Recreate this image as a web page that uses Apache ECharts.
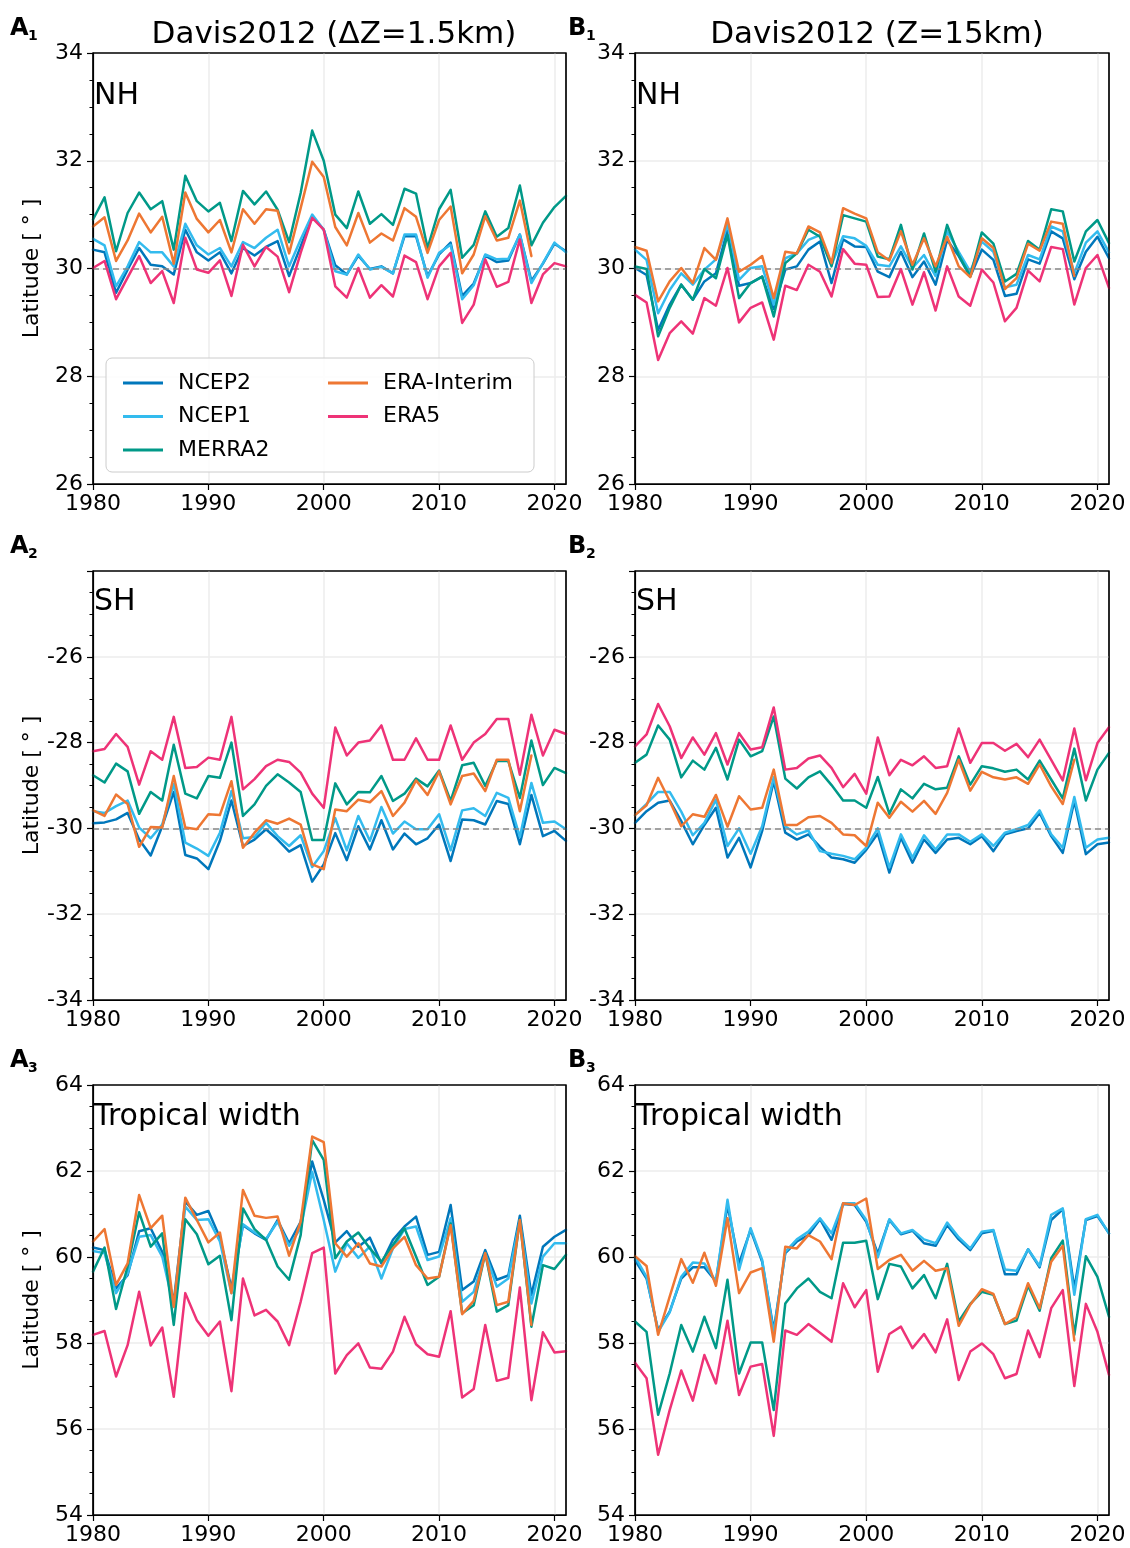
<!DOCTYPE html>
<html>
<head>
<meta charset="utf-8">
<script src="https://cdn.jsdelivr.net/npm/echarts@6/dist/echarts.min.js"></script>
<style>
html,body{margin:0;padding:0;background:#fff;}
#chart{width:1130px;height:1548px;}
</style>
</head>
<body>
<div id="chart"></div>
<script>
const years = [1980,1981,1982,1983,1984,1985,1986,1987,1988,1989,1990,1991,1992,1993,1994,1995,1996,1997,1998,1999,2000,2001,2002,2003,2004,2005,2006,2007,2008,2009,2010,2011,2012,2013,2014,2015,2016,2017,2018,2019,2020,2021];
const seriesNames = ['NCEP2','NCEP1','MERRA2','ERA-Interim','ERA5'];
const seriesColors = ['#0077BB','#33BBEE','#009988','#EE7733','#EE3377'];

// A1: NH, Davis2012 (dZ=1.5km)
const a1_ncep2 = [30.35,30.30,29.55,29.98,30.38,30.07,30.04,29.89,30.72,30.30,30.15,30.30,29.91,30.38,30.24,30.40,30.51,29.86,30.41,30.97,30.72,30.06,29.89,30.24,29.99,30.04,29.91,30.60,30.60,29.86,30.26,30.48,29.49,29.72,30.24,30.12,30.15,30.63,29.77,30.09,30.46,30.32];
const a1_ncep1 = [30.55,30.43,29.67,30.04,30.49,30.30,30.30,30.04,30.83,30.43,30.26,30.38,30.04,30.49,30.38,30.57,30.72,30.04,30.54,31.00,30.72,29.95,29.89,30.26,29.98,30.03,29.91,30.63,30.63,29.83,30.29,30.44,29.43,29.69,30.26,30.17,30.18,30.63,29.73,30.10,30.48,30.30];
const a1_merra2 = [30.91,31.32,30.32,31.03,31.41,31.10,31.25,30.35,31.72,31.25,31.06,31.22,30.51,31.44,31.19,31.43,31.09,30.49,31.40,32.56,32.00,31.00,30.75,31.43,30.83,31.01,30.81,31.48,31.39,30.38,31.10,31.46,30.20,30.44,31.06,30.59,30.75,31.54,30.43,30.85,31.14,31.35];
const a1_erai = [30.78,30.95,30.14,30.52,31.02,30.67,30.96,30.09,31.41,30.92,30.67,30.90,30.30,31.10,30.83,31.10,31.07,30.28,31.12,31.98,31.70,30.77,30.43,31.03,30.48,30.65,30.52,31.12,30.96,30.29,30.90,31.15,29.91,30.26,30.97,30.52,30.57,31.26,30.23];
const a1_era5 = [30.01,30.14,29.43,29.83,30.23,29.73,29.95,29.36,30.57,29.98,29.92,30.15,29.49,30.44,30.04,30.40,30.22,29.56,30.29,30.94,30.72,29.67,29.46,30.01,29.46,29.69,29.48,30.24,30.12,29.43,30.04,30.29,28.99,29.33,30.17,29.66,29.75,30.54,29.36,29.89,30.10,30.04];

// B1: NH, Davis2012 (Z=15km)
const b1_ncep2 = [30.01,29.88,28.86,29.33,29.70,29.42,29.76,29.91,30.72,29.68,29.73,29.85,29.25,29.98,30.04,30.35,30.50,29.73,30.54,30.41,30.40,29.94,29.84,30.31,29.84,30.13,29.70,30.53,30.23,29.85,30.35,30.16,29.49,29.53,30.17,30.09,30.69,30.56,29.80,30.31,30.59,30.19];
const b1_ncep1 = [30.35,30.16,29.17,29.60,29.91,29.70,29.98,30.17,30.81,29.79,30.01,30.04,29.33,30.19,30.28,30.53,30.62,30.07,30.60,30.56,30.42,30.07,30.04,30.41,30.01,30.25,29.86,30.69,30.31,29.94,30.50,30.31,29.65,29.70,30.25,30.17,30.78,30.69,29.91,30.48,30.69,30.30];
const b1_merra2 = [30.04,29.99,28.74,29.27,29.70,29.42,29.99,29.82,30.62,29.45,29.73,29.85,29.11,30.10,30.28,30.72,30.59,30.04,30.99,30.93,30.87,30.22,30.17,30.81,29.98,30.65,29.94,30.81,30.25,29.86,30.67,30.46,29.76,29.90,30.51,30.35,31.10,31.06,30.13,30.69,30.90,30.47];
const b1_erai = [30.40,30.33,29.39,29.76,30.01,29.73,30.38,30.16,30.93,29.94,30.07,30.23,29.45,30.31,30.28,30.78,30.67,30.10,31.12,31.02,30.93,30.30,30.15,30.69,30.07,30.56,30.04,30.59,30.04,29.84,30.56,30.38,29.62,29.82,30.46,30.33,30.87,30.83,29.86];
const b1_era5 = [29.51,29.37,28.30,28.80,29.02,28.79,29.45,29.31,30.01,29.00,29.27,29.37,28.68,29.68,29.60,30.07,29.94,29.48,30.36,30.09,30.07,29.47,29.48,29.99,29.33,29.93,29.22,30.04,29.48,29.31,29.98,29.74,29.02,29.27,29.96,29.76,30.40,30.36,29.33,30.01,30.25,29.64];

// A2: SH, Davis2012 (dZ=1.5km)
const a2_ncep2 = [-29.88,-29.86,-29.79,-29.64,-30.26,-30.63,-29.95,-29.15,-30.62,-30.70,-30.95,-30.29,-29.35,-30.41,-30.26,-30.02,-30.26,-30.54,-30.39,-31.24,-30.84,-30.11,-30.74,-29.95,-30.49,-29.81,-30.49,-30.12,-30.37,-30.23,-29.91,-30.76,-29.79,-29.81,-29.91,-29.36,-29.43,-30.37,-29.22,-30.18,-30.06,-30.29];
const a2_ncep1 = [-29.60,-29.64,-29.48,-29.35,-29.98,-30.23,-29.91,-28.96,-30.33,-30.47,-30.64,-30.10,-29.13,-30.23,-30.20,-29.87,-30.18,-30.41,-30.16,-30.90,-30.53,-29.76,-30.51,-29.71,-30.29,-29.50,-30.12,-29.84,-30.02,-30.02,-29.67,-30.51,-29.58,-29.53,-29.71,-29.17,-29.29,-30.20,-28.94,-29.87,-29.84,-30.02];
const a2_merra2 = [-28.76,-28.93,-28.49,-28.67,-29.66,-29.15,-29.35,-28.05,-29.19,-29.30,-28.78,-28.82,-28.00,-29.71,-29.44,-29.01,-28.74,-28.93,-29.15,-30.27,-30.27,-28.95,-29.44,-29.15,-29.16,-28.78,-29.36,-29.19,-28.84,-29.02,-28.65,-29.36,-28.53,-28.47,-29.01,-28.43,-28.43,-29.29,-27.95,-28.99,-28.59,-28.71];
const a2_erai = [-29.58,-29.71,-29.21,-29.43,-30.43,-29.97,-29.98,-28.78,-29.98,-30.02,-29.67,-29.69,-28.90,-30.45,-30.10,-29.81,-29.89,-29.77,-29.91,-30.84,-30.95,-29.56,-29.60,-29.33,-29.39,-29.13,-29.71,-29.40,-28.88,-29.22,-28.67,-29.44,-28.78,-28.72,-29.13,-28.40,-28.40,-29.60,-28.30];
const a2_era5 = [-28.20,-28.15,-27.80,-28.10,-28.98,-28.20,-28.40,-27.40,-28.59,-28.57,-28.35,-28.40,-27.40,-29.09,-28.85,-28.55,-28.40,-28.45,-28.70,-29.19,-29.52,-27.65,-28.30,-28.00,-27.95,-27.60,-28.40,-28.40,-27.90,-28.40,-28.40,-27.60,-28.40,-28.00,-27.80,-27.45,-27.45,-28.75,-27.35,-28.30,-27.70,-27.80];

// B2: SH, Davis2012 (Z=15km)
const b2_ncep2 = [-29.87,-29.60,-29.40,-29.35,-29.83,-30.37,-29.92,-29.52,-30.68,-30.22,-30.91,-30.06,-28.90,-30.10,-30.26,-30.14,-30.43,-30.68,-30.72,-30.80,-30.50,-30.12,-31.03,-30.22,-30.80,-30.26,-30.57,-30.26,-30.22,-30.37,-30.18,-30.53,-30.14,-30.06,-30.00,-29.64,-30.18,-30.57,-29.36,-30.60,-30.37,-30.33];
const b2_ncep1 = [-29.69,-29.43,-29.15,-29.15,-29.61,-30.16,-29.87,-29.33,-30.41,-30.00,-30.59,-29.95,-28.81,-29.95,-30.14,-30.05,-30.53,-30.59,-30.64,-30.72,-30.45,-30.00,-30.91,-30.14,-30.68,-30.16,-30.49,-30.14,-30.14,-30.31,-30.14,-30.41,-30.10,-30.02,-29.92,-29.58,-30.14,-30.45,-29.27,-30.45,-30.26,-30.22];
const b2_merra2 = [-28.47,-28.28,-27.60,-27.93,-28.81,-28.42,-28.63,-28.12,-28.86,-27.93,-28.32,-28.20,-27.39,-28.84,-29.07,-28.81,-28.67,-28.99,-29.35,-29.35,-29.52,-28.80,-29.66,-29.09,-29.30,-28.96,-29.09,-29.05,-28.32,-28.98,-28.55,-28.60,-28.68,-28.63,-28.86,-28.42,-28.86,-29.30,-28.14,-29.35,-28.63,-28.24];
const b2_erai = [-29.69,-29.46,-28.82,-29.36,-29.95,-29.67,-29.73,-29.22,-29.96,-29.25,-29.56,-29.52,-28.63,-29.92,-29.92,-29.74,-29.71,-29.87,-30.14,-30.16,-30.41,-29.40,-29.75,-29.38,-29.61,-29.36,-29.66,-29.17,-28.40,-29.12,-28.68,-28.81,-28.86,-28.81,-28.96,-28.51,-29.02,-29.43,-28.40];
const b2_era5 = [-28.09,-27.81,-27.10,-27.62,-28.36,-27.88,-28.28,-27.78,-28.51,-27.78,-28.16,-28.11,-27.18,-28.63,-28.59,-28.37,-28.30,-28.59,-29.04,-28.73,-29.19,-27.88,-28.76,-28.40,-28.53,-28.32,-28.59,-28.55,-27.67,-28.47,-28.01,-28.01,-28.19,-28.03,-28.34,-27.93,-28.40,-28.88,-27.67,-28.88,-28.01,-27.64];

// A3: Tropical width, Davis2012 (dZ=1.5km)
const a3_ncep2 = [60.22,60.16,59.27,59.58,60.60,60.67,60.12,58.96,61.29,60.98,61.07,60.45,59.27,60.74,60.55,60.40,60.86,60.32,60.82,62.22,61.33,60.34,60.60,60.24,60.45,59.85,60.40,60.71,60.94,60.05,60.12,61.21,59.23,59.43,60.16,59.47,59.57,60.96,59.12,60.24,60.47,60.63];
const a3_ncep1 = [60.14,60.09,59.16,59.62,60.47,60.51,60.01,58.84,61.17,60.86,60.88,60.36,59.16,60.76,60.57,60.42,60.82,60.26,60.67,61.98,60.86,59.66,60.32,59.98,60.24,59.50,60.20,60.65,60.71,59.93,60.01,60.90,58.96,59.19,60.09,59.31,59.50,60.86,58.92,60.01,60.32,60.32];
const a3_merra2 = [59.66,60.22,58.79,59.78,61.04,60.24,60.55,58.42,60.88,60.53,59.83,60.03,58.53,61.13,60.65,60.40,59.78,59.47,60.51,62.72,62.26,59.97,60.36,60.57,60.20,59.89,60.28,60.67,60.01,59.35,59.54,60.78,58.69,58.88,60.09,58.73,58.88,60.86,58.38,59.81,59.72,60.05];
const a3_erai = [60.36,60.65,59.35,59.85,61.44,60.67,60.96,58.84,61.38,60.86,60.34,60.57,59.16,61.56,60.96,60.91,60.94,60.03,60.82,62.80,62.67,60.32,60.01,60.32,59.85,59.78,60.20,60.47,59.81,59.50,59.54,60.74,58.67,58.98,60.09,58.88,58.96,60.86,58.42];
const a3_era5 = [58.19,58.28,57.22,57.95,59.19,57.94,58.36,56.75,59.16,58.53,58.17,58.50,56.88,59.50,58.64,58.77,58.50,57.95,58.96,60.09,60.22,57.29,57.72,57.99,57.43,57.40,57.80,58.61,57.97,57.74,57.68,58.74,56.73,56.93,58.42,57.12,57.19,59.29,56.67,58.25,57.78,57.81];

// B3: Tropical width, Davis2012 (Z=15km)
const b3_ncep2 = [59.93,59.50,58.30,58.73,59.50,59.76,59.76,59.43,61.21,59.85,60.63,59.89,58.30,60.09,60.36,60.51,60.88,60.40,61.23,61.21,60.82,60.08,60.86,60.53,60.61,60.32,60.26,60.74,60.41,60.16,60.55,60.61,59.60,59.60,60.18,59.76,60.86,61.11,59.27,60.86,60.95,60.55];
const b3_ncep1 = [60.01,59.54,58.26,58.71,59.54,59.87,59.85,59.43,61.33,59.70,60.67,59.93,58.22,60.12,60.41,60.59,60.90,60.55,61.25,61.25,60.86,59.99,60.88,60.55,60.63,60.41,60.32,60.80,60.46,60.20,60.59,60.63,59.71,59.68,60.18,59.79,60.98,61.13,59.12,60.88,60.98,60.55];
const b3_merra2 = [58.50,58.26,56.33,57.29,58.42,57.80,58.61,57.88,59.47,57.29,58.01,58.01,56.44,58.92,59.27,59.50,59.19,59.04,60.33,60.33,60.38,59.02,59.84,59.78,59.27,59.58,59.04,59.84,58.50,58.91,59.19,59.12,58.44,58.52,59.33,58.75,59.97,60.38,58.19,60.02,59.54,58.61];
const b3_erai = [60.02,59.79,58.19,59.08,59.95,59.40,60.10,59.33,60.90,59.16,59.64,59.74,58.03,60.24,60.20,60.51,60.36,59.95,61.25,61.21,61.36,59.72,59.93,60.05,59.68,59.91,59.68,59.74,58.40,58.89,59.25,59.14,58.44,58.60,59.39,58.81,59.89,60.26,58.06];
const b3_era5 = [57.54,57.18,55.40,56.44,57.36,56.66,57.72,57.06,58.52,56.79,57.45,57.51,55.84,58.29,58.19,58.44,58.24,58.03,59.39,58.83,59.23,57.33,58.21,58.38,57.88,58.21,57.78,58.55,57.14,57.80,57.99,57.74,57.18,57.28,58.29,57.67,58.81,59.23,57.00,58.91,58.26,57.26];

const panelSeries = [
  [a1_ncep2, a1_ncep1, a1_merra2, a1_erai, a1_era5],
  [b1_ncep2, b1_ncep1, b1_merra2, b1_erai, b1_era5],
  [a2_ncep2, a2_ncep1, a2_merra2, a2_erai, a2_era5],
  [b2_ncep2, b2_ncep1, b2_merra2, b2_erai, b2_era5],
  [a3_ncep2, a3_ncep1, a3_merra2, a3_erai, a3_era5],
  [b3_ncep2, b3_ncep1, b3_merra2, b3_erai, b3_era5]
];
const yRanges = [[26,34],[26,34],[-34,-24],[-34,-24],[54,64],[54,64]];
const refLines = [30, 30, -30, -30, null, null];
const xRange = [1980, 2021];
const columnTitles = ['Davis2012 (\u0394Z=1.5km)', 'Davis2012 (Z=15km)'];
const regionLabels = ['NH', 'NH', 'SH', 'SH', 'Tropical width', 'Tropical width'];
const panelLetters = [['A','1'],['B','1'],['A','2'],['B','2'],['A','3'],['B','3']];
const yAxisTitle = 'Latitude [ \u00b0 ]';

const FONT = '"DejaVu Sans", "Liberation Sans", sans-serif';
const gridBoxes = [
  {left: 93, top: 53, width: 473, height: 431},
  {left: 635, top: 53, width: 474, height: 431},
  {left: 93, top: 571, width: 473, height: 429},
  {left: 635, top: 571, width: 474, height: 429},
  {left: 93, top: 1085, width: 473, height: 430},
  {left: 635, top: 1085, width: 474, height: 430}
];
const regionLabelOffsets = [43, 43, 31, 31, 32, 32];

const chart = echarts.init(document.getElementById('chart'), null, {renderer: 'canvas'});

const grids = gridBoxes.map(b => Object.assign({show: true, borderColor: '#000', borderWidth: 1.2, backgroundColor: 'transparent', containLabel: false}, b));

const xAxes = gridBoxes.map((b, i) => ({
  type: 'value', gridIndex: i, min: xRange[0], max: xRange[1], interval: 10,
  axisLine: {show: true, onZero: false, lineStyle: {color: '#000', width: 1.2}},
  axisTick: {show: true, length: 6, lineStyle: {color: '#000', width: 1.2}},
  minorTick: {show: false},
  axisLabel: {show: true, showMaxLabel: false, color: '#000', fontSize: 22, fontFamily: FONT, margin: 9,
    formatter: v => String(v)},
  splitLine: {show: true, showMaxLine: false, showMinLine: false, lineStyle: {color: '#ececec', width: 1.5}}
}));

const yAxes = gridBoxes.map((b, i) => ({
  type: 'value', gridIndex: i, min: yRanges[i][0], max: yRanges[i][1], interval: 2,
  name: (i % 2 === 0) ? yAxisTitle : '',
  nameLocation: 'middle', nameGap: 50,
  nameTextStyle: {color: '#000', fontSize: 22, fontFamily: FONT},
  axisLine: {show: true, onZero: false, lineStyle: {color: '#000', width: 1.2}},
  axisTick: {show: true, length: 6, lineStyle: {color: '#000', width: 1.2}},
  minorTick: {show: true, splitNumber: 4, length: 3.5, lineStyle: {color: '#000', width: 1}},
  axisLabel: {show: true, showMaxLabel: yRanges[i][1] > 0, color: '#000', fontSize: 22, fontFamily: FONT, margin: 10,
    formatter: v => String(v)},
  splitLine: {show: true, showMaxLine: false, showMinLine: false, lineStyle: {color: '#ececec', width: 1.5}}
}));

const series = [];
panelSeries.forEach((sets, p) => {
  sets.forEach((vals, k) => {
    const s = {
      type: 'line', name: seriesNames[k], xAxisIndex: p, yAxisIndex: p,
      data: vals.map((v, i) => [years[i], v]),
      showSymbol: false, symbol: 'none',
      lineStyle: {width: 2.5, color: seriesColors[k], join: 'round', cap: 'round'},
      itemStyle: {color: seriesColors[k]},
      z: 3 + k, silent: true, animation: false
    };
    if (k === 0 && refLines[p] !== null) {
      s.markLine = {
        silent: true, symbol: ['none', 'none'], animation: false,
        label: {show: false},
        lineStyle: {type: [6, 4], color: '#888', width: 1.6},
        data: [{yAxis: refLines[p]}]
      };
    }
    series.push(s);
  });
});

const graphics = [];
// legend frame
graphics.push({type: 'rect', z: 10, shape: {x: 106, y: 358, width: 428, height: 114, r: 6},
  style: {fill: 'rgba(255,255,255,0.85)', stroke: '#cccccc', lineWidth: 1}});
gridBoxes.forEach((b, i) => {
  // plot frame (spines)
  graphics.push({type: 'rect', z: 15, silent: true, shape: {x: b.left, y: b.top, width: b.width, height: b.height},
    style: {fill: 'none', stroke: '#000', lineWidth: 1.2}});
  graphics.push({type: 'text', z: 20, x: b.left + 1, y: b.top + regionLabelOffsets[i],
    style: {text: regionLabels[i], fontSize: 30, fontFamily: FONT, fill: '#000', verticalAlign: 'middle', align: 'left'}});
  const lx = (i % 2 === 0) ? 10 : 568;
  const ly = b.top - 24;
  graphics.push({type: 'text', z: 20, x: lx, y: ly,
    style: {text: panelLetters[i][0], fontSize: 24, fontWeight: 'bold', fontFamily: FONT, fill: '#000', verticalAlign: 'middle', align: 'left'}});
  graphics.push({type: 'text', z: 20, x: lx + 18, y: ly + 7,
    style: {text: panelLetters[i][1], fontSize: 14, fontWeight: 'bold', fontFamily: FONT, fill: '#000', verticalAlign: 'middle', align: 'left'}});
});

const legendCommon = {
  orient: 'vertical', icon: 'rect', itemWidth: 40, itemHeight: 3, itemGap: 9.5,
  selectedMode: false, z: 30,
  textStyle: {color: '#000', fontSize: 22, fontFamily: FONT, lineHeight: 24, padding: [0, 0, 0, 10]}
};

const option = {
  animation: false,
  backgroundColor: '#fff',
  title: [
    {text: columnTitles[0], left: 329, top: 14, textAlign: 'center', textStyle: {color: '#000', fontSize: 31, fontWeight: 'normal', fontFamily: FONT}},
    {text: columnTitles[1], left: 872, top: 14, textAlign: 'center', textStyle: {color: '#000', fontSize: 31, fontWeight: 'normal', fontFamily: FONT}}
  ],
  legend: [
    Object.assign({}, legendCommon, {data: seriesNames.slice(0, 3), left: 118, top: 366}),
    Object.assign({}, legendCommon, {data: seriesNames.slice(3), left: 323, top: 366})
  ],
  grid: grids,
  xAxis: xAxes,
  yAxis: yAxes,
  series: series,
  graphic: graphics
};
chart.setOption(option);
</script>
</body>
</html>
